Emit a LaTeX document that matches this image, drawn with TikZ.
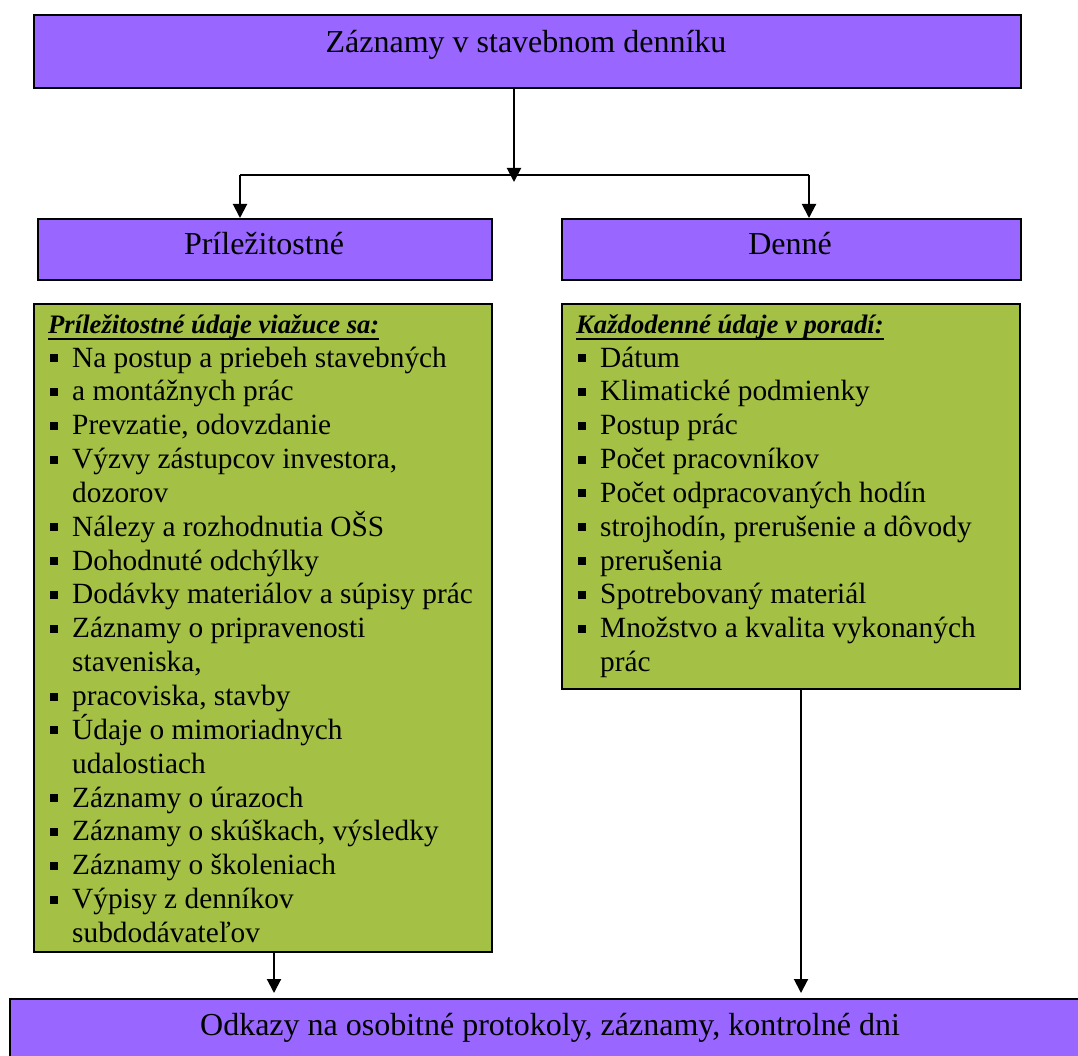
\documentclass[tikz,border=0pt]{standalone}
\usepackage{fontspec}
\setmainfont{Liberation Serif}
\usetikzlibrary{arrows.meta}
\definecolor{purp}{RGB}{153,102,255}
\definecolor{grn}{RGB}{164,192,69}
\newsavebox\myulbox
\newcommand\myul[1]{\sbox\myulbox{#1}\rlap{\rule[-6.25pt]{\wd\myulbox}{2.5pt}}\usebox\myulbox}
\newcommand\bitem[1]{\makebox[22pt][l]{\raisebox{5pt}{\rule{8pt}{8pt}}}#1}
\newcommand\citem[1]{\hspace*{22pt}#1}
\tikzset{
  box/.style={draw=black, line width=2pt, inner sep=0pt, anchor=north west},
  pbox/.style={box, fill=purp},
  gbox/.style={box, fill=grn},
  conn/.style={line width=2pt},
  arr/.style={line width=2pt, -{Triangle[length=14pt,width=14pt]}},
  big/.style={font=\fontsize{32}{38}\selectfont, anchor=base, inner sep=0pt},
  itm/.style={font=\fontsize{29.33}{34}\selectfont, anchor=base west, inner sep=0pt},
  hdr/.style={font=\fontsize{26.67}{31}\selectfont\bfseries\itshape, anchor=base west, inner sep=0pt}
}
\begin{document}
\begin{tikzpicture}[x=1pt,y=-1pt]
\clip (0,0) rectangle (1078,1056);
\fill[white] (0,0) rectangle (1078,1056);
% boxes
\node[pbox, minimum width=987pt, minimum height=73pt] (top) at (33,14) {};
\node[big] (toptxt) at (526,53) {Záznamy v stavebnom denníku};
\node[pbox, minimum width=454pt, minimum height=61pt] (pril) at (37,218) {};
\node[big] (priltxt) at (264,255) {Príležitostné};
\node[pbox, minimum width=459pt, minimum height=61pt] (denne) at (561,218) {};
\node[big] (dennetxt) at (790,255) {Denné};
\node[gbox, minimum width=458pt, minimum height=648pt] (lg) at (33,303) {};
\node[gbox, minimum width=458pt, minimum height=385pt] (rg) at (561,303) {};
\node[pbox, minimum width=1082pt, minimum height=80pt] (bot) at (9,998) {};
\node[big] (bottxt) at (550,1035) {Odkazy na osobitné protokoly, záznamy, kontrolné dni};
% headers
\node[hdr] (lh) at (48,334) {\myul{Príležitostné údaje viažuce sa:}};
\node[hdr] (rh) at (576,334) {\myul{Každodenné údaje v poradí:}};
% left list
\foreach \t [count=\i from 0] in {
  {\bitem{Na postup a priebeh stavebných}},
  {\bitem{a montážnych prác}},
  {\bitem{Prevzatie, odovzdanie}},
  {\bitem{Výzvy zástupcov investora,}},
  {\citem{dozorov}},
  {\bitem{Nálezy a rozhodnutia OŠS}},
  {\bitem{Dohodnuté odchýlky}},
  {\bitem{Dodávky materiálov a súpisy prác}},
  {\bitem{Záznamy o pripravenosti}},
  {\citem{staveniska,}},
  {\bitem{pracoviska, stavby}},
  {\bitem{Údaje o mimoriadnych}},
  {\citem{udalostiach}},
  {\bitem{Záznamy o úrazoch}},
  {\bitem{Záznamy o skúškach, výsledky}},
  {\bitem{Záznamy o školeniach}},
  {\bitem{Výpisy z denníkov}},
  {\citem{subdodávateľov}}}
  \node[itm] (l\i) at (50,{367+33.85*\i}) {\t};
% right list
\foreach \t [count=\i from 0] in {
  {\bitem{Dátum}},
  {\bitem{Klimatické podmienky}},
  {\bitem{Postup prác}},
  {\bitem{Počet pracovníkov}},
  {\bitem{Počet odpracovaných hodín}},
  {\bitem{strojhodín, prerušenie a dôvody}},
  {\bitem{prerušenia}},
  {\bitem{Spotrebovaný materiál}},
  {\bitem{Množstvo a kvalita vykonaných}},
  {\citem{prác}}}
  \node[itm] (r\i) at (578,{367+33.85*\i}) {\t};
% connectors
\coordinate (j) at (514,175);
\coordinate (jl) at (240,175);
\coordinate (jr) at (809,175);
\coordinate (al) at (274,0);
\coordinate (ar) at (801,0);
\draw[arr] (top.south -| j) -- ([yshift=-7pt]j);
\draw[conn] (jl) -- (jr);
\draw[arr] (jl) -- (pril.north -| jl);
\draw[arr] (jr) -- (denne.north -| jr);
\draw[arr, shorten >=5pt] (lg.south -| al) -- (bot.north -| al);
\draw[arr, shorten >=5pt] (rg.south -| ar) -- (bot.north -| ar);
\end{tikzpicture}
\end{document}
